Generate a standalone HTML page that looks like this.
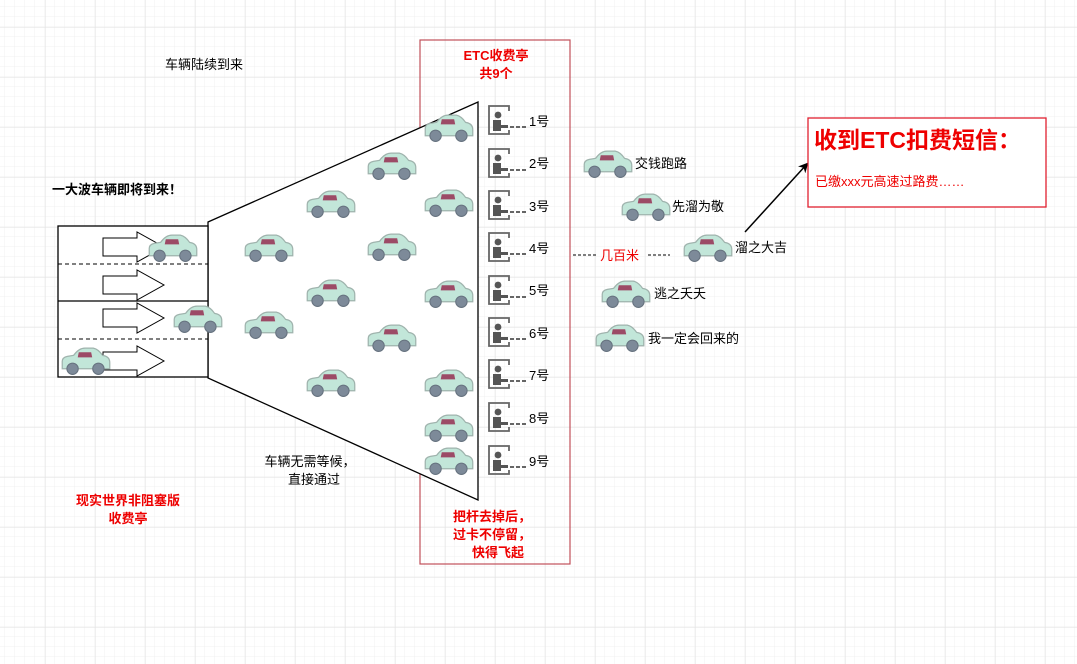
<!DOCTYPE html>
<html><head><meta charset="utf-8"><style>
html,body{margin:0;padding:0;background:#fff}
svg{display:block;font-family:"Liberation Sans","Noto Sans CJK SC",sans-serif}
</style></head><body>
<svg width="1077" height="664" viewBox="0 0 1077 664" xmlns="http://www.w3.org/2000/svg">
<defs>
<pattern id="minor" width="10" height="10" patternUnits="userSpaceOnUse" x="5" y="7">
<path d="M10 0V10M0 10H10" fill="none" stroke="#f1f1f1" stroke-width="1"/>
</pattern>
<pattern id="major" width="50" height="50" patternUnits="userSpaceOnUse" x="45" y="27">
<path d="M0 0V50M0 0H50" fill="none" stroke="#e2e2e2" stroke-width="1"/>
</pattern>
<symbol id="car" viewBox="0 0 50 30">
<path d="M2,23 L2,16 Q2,12 7,11 L13,10 Q18,3 24,3 L32,3 Q37,4 41,10 Q48,11 48,17 L48,23 Z" fill="#c2e6d9" stroke="#9fb3ad" stroke-width="1.2"/>
<path d="M18,7 L30,7 L31,12 L17,12 Z" fill="#9c4a66"/>
<circle cx="12" cy="23" r="5.5" fill="#7d8a99" stroke="#66727f"/>
<circle cx="37" cy="23" r="5.5" fill="#7d8a99" stroke="#66727f"/>
</symbol>
<symbol id="toll" viewBox="0 0 40 30">
<path d="M21,6 L21,1 L1,1 L1,29 L21,29 L21,25" fill="none" stroke="#666" stroke-width="1.8"/>
<circle cx="10" cy="10" r="3.4" fill="#555"/>
<path d="M5,15 L13,15 L13,20 L20,20 L20,23 L13,23 L13,26 L5,26 Z" fill="#555"/>
<path d="M22,22 L38,22" stroke="#333" stroke-width="1.4" stroke-dasharray="4,2"/>
</symbol>
<marker id="ah" markerWidth="10" markerHeight="10" refX="8" refY="5" orient="auto" markerUnits="userSpaceOnUse"><path d="M0,0 L10,5 L0,10 L3,5 Z" fill="#000"/></marker>
</defs>
<rect width="1077" height="664" fill="url(#minor)"/>
<rect width="1077" height="664" fill="url(#major)"/>

<rect x="420" y="40" width="150" height="524" fill="none" stroke="#c0505a" stroke-width="1.2"/>
<text x="496" y="60" font-size="13" font-weight="bold" fill="#e00" text-anchor="middle">ETC收费亭</text>
<text x="496" y="78" font-size="13" font-weight="bold" fill="#e00" text-anchor="middle">共9个</text>
<text x="492" y="521" font-size="13" font-weight="bold" fill="#e00" text-anchor="middle">把杆去掉后，</text>
<text x="492" y="539" font-size="13" font-weight="bold" fill="#e00" text-anchor="middle">过卡不停留，</text>
<text x="498" y="557" font-size="13" font-weight="bold" fill="#e00" text-anchor="middle">快得飞起</text>

<path d="M208,222 L478,102 L478,500 L208,378 Z" fill="#fff" stroke="#000" stroke-width="1.3"/>

<rect x="58" y="226" width="150" height="151" fill="#fff" stroke="#000" stroke-width="1.3"/>
<line x1="58" y1="301" x2="208" y2="301" stroke="#000" stroke-width="1.3"/>
<line x1="58" y1="264" x2="208" y2="264" stroke="#000" stroke-dasharray="4,3"/>
<line x1="58" y1="339" x2="208" y2="339" stroke="#000" stroke-dasharray="4,3"/>
<g fill="#fff" stroke="#000" stroke-width="1">
<path d="M103,238 L137,238 L137,232 L164,247 L137,262 L137,256 L103,256 Z"/>
<path d="M103,276 L137,276 L137,270 L164,285 L137,300 L137,294 L103,294 Z"/>
<path d="M103,309 L137,309 L137,303 L164,318 L137,333 L137,327 L103,327 Z"/>
<path d="M103,352 L137,352 L137,346 L164,361 L137,376 L137,370 L103,370 Z"/>
</g>

<g>
<use href="#car" x="147" y="232" width="52" height="31"/>
<use href="#car" x="172" y="303" width="52" height="31"/>
<use href="#car" x="60" y="345" width="52" height="31"/>
<use href="#car" x="243" y="232" width="52" height="31"/>
<use href="#car" x="243" y="309" width="52" height="31"/>
<use href="#car" x="305" y="188" width="52" height="31"/>
<use href="#car" x="305" y="277" width="52" height="31"/>
<use href="#car" x="305" y="367" width="52" height="31"/>
<use href="#car" x="366" y="150" width="52" height="31"/>
<use href="#car" x="366" y="231" width="52" height="31"/>
<use href="#car" x="366" y="322" width="52" height="31"/>
<use href="#car" x="423" y="112" width="52" height="31"/>
<use href="#car" x="423" y="187" width="52" height="31"/>
<use href="#car" x="423" y="278" width="52" height="31"/>
<use href="#car" x="423" y="367" width="52" height="31"/>
<use href="#car" x="423" y="412" width="52" height="31"/>
<use href="#car" x="423" y="445" width="52" height="31"/>
<use href="#car" x="582" y="148" width="52" height="31"/>
<use href="#car" x="620" y="191" width="52" height="31"/>
<use href="#car" x="682" y="232" width="52" height="31"/>
<use href="#car" x="600" y="278" width="52" height="31"/>
<use href="#car" x="594" y="322" width="52" height="31"/>
</g>

<g font-size="13" fill="#000">
<use href="#toll" x="488" y="105" width="40" height="30"/><text x="529" y="126">1号</text>
<use href="#toll" x="488" y="148" width="40" height="30"/><text x="529" y="168">2号</text>
<use href="#toll" x="488" y="190" width="40" height="30"/><text x="529" y="211">3号</text>
<use href="#toll" x="488" y="232" width="40" height="30"/><text x="529" y="253">4号</text>
<use href="#toll" x="488" y="275" width="40" height="30"/><text x="529" y="295">5号</text>
<use href="#toll" x="488" y="317" width="40" height="30"/><text x="529" y="338">6号</text>
<use href="#toll" x="488" y="359" width="40" height="30"/><text x="529" y="380">7号</text>
<use href="#toll" x="488" y="402" width="40" height="30"/><text x="529" y="423">8号</text>
<use href="#toll" x="488" y="445" width="40" height="30"/><text x="529" y="466">9号</text>
</g>

<g font-size="13" fill="#000">
<text x="635" y="168">交钱跑路</text>
<text x="672" y="211">先溜为敬</text>
<text x="735" y="252">溜之大吉</text>
<text x="654" y="298">逃之夭夭</text>
<text x="648" y="343">我一定会回来的</text>
</g>
<line x1="573" y1="255" x2="598" y2="255" stroke="#000" stroke-dasharray="3,2"/>
<line x1="648" y1="255" x2="670" y2="255" stroke="#000" stroke-dasharray="3,2"/>
<text x="600" y="260" font-size="13" fill="#e00">几百米</text>

<line x1="745" y1="232" x2="807" y2="164" stroke="#000" stroke-width="1.5" marker-end="url(#ah)"/>
<rect x="808" y="118" width="238" height="89" fill="#fff" stroke="#e02030" stroke-width="1.3"/>
<text x="814" y="148" font-size="23" font-weight="bold" fill="#e00">收到ETC扣费短信：</text>
<text x="815" y="186" font-size="13" fill="#e00">已缴xxx元高速过路费……</text>

<text x="165" y="69" font-size="13" fill="#000">车辆陆续到来</text>
<text x="52" y="194" font-size="13" font-weight="bold" fill="#000">一大波车辆即将到来！</text>
<text x="310" y="466" font-size="13" fill="#000" text-anchor="middle">车辆无需等候，</text>
<text x="314" y="484" font-size="13" fill="#000" text-anchor="middle">直接通过</text>
<text x="128" y="505" font-size="13" font-weight="bold" fill="#e00" text-anchor="middle">现实世界非阻塞版</text>
<text x="128" y="523" font-size="13" font-weight="bold" fill="#e00" text-anchor="middle">收费亭</text>
</svg>
</body></html>
